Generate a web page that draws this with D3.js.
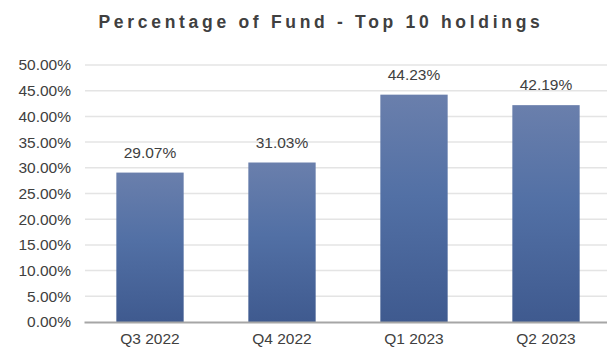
<!DOCTYPE html>
<html>
<head>
<meta charset="utf-8">
<script src="https://cdn.jsdelivr.net/npm/d3@7"></script>
<style>
  html, body { margin: 0; padding: 0; background: #ffffff; }
  svg { display: block; font-family: "Liberation Sans", Arial, sans-serif; }
</style>
</head>
<body>
<svg id="chart" width="607" height="348"></svg>
<script>
// Quarterly share of the fund held in its top 10 positions
const quarters = ["Q3 2022", "Q4 2022", "Q1 2023", "Q2 2023"];
const topTenShare = [29.07, 31.03, 44.23, 42.19];
const yTicks = [0, 5, 10, 15, 20, 25, 30, 35, 40, 45, 50];
const chartTitle = "Percentage of Fund - Top 10 holdings";

const svg = d3.select("#chart");
const W = 607, H = 348;
const margin = { top: 65, right: -5, bottom: 26, left: 84 };

const x = d3.scaleBand()
  .domain(quarters)
  .range([margin.left, W - margin.right])
  .paddingInner(0.49)
  .paddingOuter(0.245);

const y = d3.scaleLinear()
  .domain([0, 50])
  .range([H - margin.bottom, margin.top]);

const fmt = v => d3.format(".2f")(v) + "%";

// Bar gradient: lighter steel blue at top, deeper blue at the base
const defs = svg.append("defs");
const grad = defs.append("linearGradient")
  .attr("id", "barFill")
  .attr("x1", 0).attr("y1", 0).attr("x2", 0).attr("y2", 1);
grad.append("stop").attr("offset", "0%").attr("stop-color", "#6a7fac");
grad.append("stop").attr("offset", "45%").attr("stop-color", "#5270a5");
grad.append("stop").attr("offset", "100%").attr("stop-color", "#3f5a8f");

// Title
svg.append("text")
  .attr("x", 321)
  .attr("y", 28)
  .attr("text-anchor", "middle")
  .attr("font-size", 17.5)
  .attr("font-weight", "bold")
  .attr("letter-spacing", 3.7)
  .attr("fill", "#404040")
  .text(chartTitle);

// Horizontal gridlines
svg.append("g")
  .selectAll("line")
  .data(yTicks.filter(t => t > 0))
  .join("line")
  .attr("x1", margin.left + 1)
  .attr("x2", W)
  .attr("y1", d => y(d))
  .attr("y2", d => y(d))
  .attr("stroke", "#e4e4e4")
  .attr("stroke-width", 1.5);

// Y axis labels (no axis line)
const yAxis = svg.append("g")
  .attr("transform", `translate(${margin.left - 13},0)`)
  .call(d3.axisLeft(y).tickValues(yTicks).tickFormat(fmt).tickSize(0).tickPadding(0));
yAxis.select(".domain").remove();
yAxis.selectAll("text")
  .attr("font-family", "Liberation Sans, Arial, sans-serif")
  .attr("font-size", 15.5)
  .attr("fill", "#404040");

// Bars
svg.append("g")
  .selectAll("rect")
  .data(quarters.map((q, i) => ({ q, v: topTenShare[i] })))
  .join("rect")
  .attr("x", d => x(d.q))
  .attr("y", d => y(d.v))
  .attr("width", x.bandwidth())
  .attr("height", d => y(0) - y(d.v))
  .attr("fill", "url(#barFill)");

// Value labels above bars
svg.append("g")
  .selectAll("text")
  .data(quarters.map((q, i) => ({ q, v: topTenShare[i] })))
  .join("text")
  .attr("x", d => x(d.q) + x.bandwidth() / 2)
  .attr("y", d => y(d.v) - 15)
  .attr("text-anchor", "middle")
  .attr("font-size", 15.5)
  .attr("fill", "#404040")
  .text(d => fmt(d.v));

// X axis baseline and category labels
const xAxis = svg.append("g")
  .attr("transform", `translate(0,${y(0)})`)
  .call(d3.axisBottom(x).tickSize(0).tickPadding(11));
xAxis.select(".domain")
  .attr("stroke", "#a6a6a6")
  .attr("stroke-width", 2.2);
xAxis.selectAll("text")
  .attr("font-family", "Liberation Sans, Arial, sans-serif")
  .attr("font-size", 15.5)
  .attr("fill", "#404040")
  .attr("dy", "0.71em");
</script>
</body>
</html>
